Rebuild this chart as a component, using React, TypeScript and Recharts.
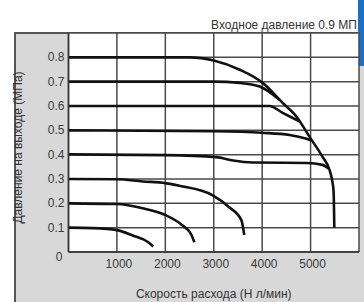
import React from 'react';
import { LineChart, Line, XAxis, YAxis, CartesianGrid } from 'recharts';

// flow (Nl/min) vs outlet pressure (MPa), one curve per set pressure
const curve01 = [
  { flow: 0, p: 0.1 }, { flow: 500, p: 0.098 }, { flow: 1000, p: 0.09 },
  { flow: 1350, p: 0.066 }, { flow: 1640, p: 0.041 }, { flow: 1750, p: 0.022 },
];
const curve02 = [
  { flow: 0, p: 0.2 }, { flow: 1000, p: 0.197 }, { flow: 1530, p: 0.18 },
  { flow: 2000, p: 0.152 }, { flow: 2350, p: 0.11 }, { flow: 2540, p: 0.07 }, { flow: 2600, p: 0.04 },
];
const curve03 = [
  { flow: 0, p: 0.3 }, { flow: 1000, p: 0.299 }, { flow: 1530, p: 0.29 }, { flow: 2000, p: 0.283 },
  { flow: 2290, p: 0.272 }, { flow: 2970, p: 0.234 }, { flow: 3320, p: 0.184 },
  { flow: 3570, p: 0.131 }, { flow: 3630, p: 0.07 },
];
const curve04 = [
  { flow: 0, p: 0.401 }, { flow: 2000, p: 0.398 }, { flow: 3050, p: 0.39 }, { flow: 3400, p: 0.376 },
  { flow: 3800, p: 0.368 }, { flow: 4918, p: 0.366 }, { flow: 5247, p: 0.358 }, { flow: 5380, p: 0.342 },
];
const curve05 = [
  { flow: 0, p: 0.5 }, { flow: 3000, p: 0.496 }, { flow: 4000, p: 0.49 },
  { flow: 4567, p: 0.481 }, { flow: 4918, p: 0.465 }, { flow: 5020, p: 0.458 },
];
const curve06 = [
  { flow: 0, p: 0.6 }, { flow: 4150, p: 0.6 }, { flow: 4423, p: 0.572 }, { flow: 4770, p: 0.537 },
];
const curve07 = [
  { flow: 0, p: 0.7 }, { flow: 3000, p: 0.7 }, { flow: 3536, p: 0.695 },
  { flow: 3950, p: 0.68 }, { flow: 4360, p: 0.625 },
];
const curve08 = [
  { flow: 0, p: 0.8 }, { flow: 2500, p: 0.8 }, { flow: 3000, p: 0.787 }, { flow: 3536, p: 0.749 },
  { flow: 4010, p: 0.695 }, { flow: 4423, p: 0.613 }, { flow: 4711, p: 0.556 }, { flow: 4979, p: 0.473 },
  { flow: 5247, p: 0.391 }, { flow: 5392, p: 0.337 }, { flow: 5440, p: 0.3 }, { flow: 5475, p: 0.25 },
  { flow: 5490, p: 0.1 },
];
const curves = [curve01, curve02, curve03, curve04, curve05, curve06, curve07, curve08];

const xTicks = [0, 1000, 2000, 3000, 4000, 5000, 6000];
const yTicks = [0, 0.1, 0.2, 0.3, 0.4, 0.5, 0.6, 0.7, 0.8, 0.9];

// one shared table for the chart: a row per flow value, a column per curve
const flows = Array.from(new Set(curves.flatMap((c) => c.map((d) => d.flow)))).sort((a, b) => a - b);
const table = flows.map((f) => {
  const row: any = { flow: f };
  curves.forEach((c, i) => {
    const hit = c.find((d) => d.flow === f);
    if (hit) row['c' + i] = hit.p;
  });
  return row;
});

const font = '"Liberation Sans", Arial, sans-serif';

const XTick = (props: any) => {
  const { x, y, payload } = props;
  if (payload.value === 0 || payload.value === 6000) return null;
  return (
    <text x={x + 2} y={y + 14} textAnchor="middle" fill="#3a3a3a" fontSize={12} fontFamily={font}>
      {payload.value}
    </text>
  );
};

const YTick = (props: any) => {
  const { x, y, payload } = props;
  if (payload.value > 0.85) return null;
  const zero = payload.value === 0;
  return (
    <text x={zero ? x - 2 : x} y={zero ? y + 9 : y + 4} textAnchor="end" fill="#3a3a3a" fontSize={12} fontFamily={font}>
      {zero ? '0' : payload.value.toFixed(1)}
    </text>
  );
};

export default function App() {
  return (
    <div style={{ position: 'absolute', left: 0, top: 0, width: 364, height: 302, background: '#fff', overflow: 'hidden' }}>
      <div style={{ position: 'absolute', left: 14, top: 32, width: 350, height: 270, background: '#d8d8d8', borderLeft: '2px solid #555', borderTop: '2px solid #555' }} />
      <div style={{ position: 'absolute', left: 358, top: 0, width: 6, height: 66, background: '#1b6fc2' }} />
      <div style={{ position: 'absolute', right: 7, top: 18, fontSize: 12, fontFamily: font, color: '#333', whiteSpace: 'nowrap', lineHeight: '14px' }}>
        Входное давление 0.9 МП
      </div>
      <div style={{ position: 'absolute', left: 0, top: 0 }}>
        <LineChart data={table} width={364} height={302} margin={{ top: 33, right: 5, bottom: 20, left: 14 }}>
          <CartesianGrid fill="#fff" fillOpacity={1} stroke="#4a4a4a" strokeWidth={1.5} />
          <XAxis
            type="number"
            dataKey="flow"
            domain={[0, 6000]}
            ticks={xTicks}
            height={30}
            stroke="#333"
            strokeWidth={1.5}
            tickLine={false}
            tickSize={0}
            tick={<XTick />}
            label={{ value: 'Скорость расхода (Н л/мин)', position: 'insideBottom', offset: -16, fill: '#333', fontSize: 12, fontFamily: font }}
          />
          <YAxis
            type="number"
            domain={[0, 0.9]}
            ticks={yTicks}
            width={54.5}
            stroke="#333"
            strokeWidth={1.5}
            tickLine={false}
            tickSize={0}
            tickMargin={4}
            tick={<YTick />}
            label={{ value: 'Давление на выходе (МПа)', angle: -90, position: 'insideLeft', offset: 4, dy: 5, fill: '#333', fontSize: 12, fontFamily: font, style: { textAnchor: 'middle' } }}
          />
          {curves.map((_, i) => (
            <Line key={i} dataKey={'c' + i} type="monotone" connectNulls stroke="#111" strokeWidth={2.6} dot={false} isAnimationActive={false} />
          ))}
        </LineChart>
      </div>
    </div>
  );
}
